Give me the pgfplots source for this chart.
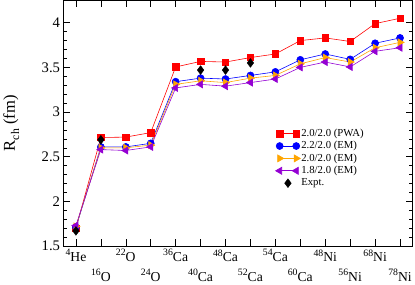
\documentclass[border=0pt]{standalone}
\usepackage{fontspec}
\setmainfont{Liberation Serif}
\usepackage{pgfplots}
\pgfplotsset{compat=1.18}

\definecolor{cred}{RGB}{255,0,0}
\definecolor{cblue}{RGB}{0,0,255}
\definecolor{corange}{RGB}{255,165,0}
\definecolor{cpurple}{RGB}{148,0,211}

\newcommand{\nuc}[2]{\raisebox{0.42em}{\fontsize{10}{10}\selectfont #1}#2}

\begin{document}
\begin{tikzpicture}
\begin{axis}[
  scale only axis, width=358pt, height=252pt,
  xmin=0.5, xmax=14.5, ymin=1.5, ymax=4.25,
  xtick={1,3,5,7,9,11,13},
  xticklabels={\nuc{4}{He},\nuc{22}{O},\nuc{36}{Ca},\nuc{48}{Ca},\nuc{54}{Ca},\nuc{48}{Ni},\nuc{68}{Ni}},
  extra x ticks={2,4,6,8,10,12,14},
  extra x tick labels={\nuc{16}{O},\nuc{24}{O},\nuc{40}{Ca},\nuc{52}{Ca},\nuc{60}{Ca},\nuc{56}{Ni},\nuc{78}{Ni}},
  extra x tick style={xticklabel style={yshift=-20pt}, major tick length=7pt},
  ytick={1.5,2,2.5,3,3.5,4},
  minor y tick num=4,
  tick align=inside,
  major tick length=7pt, minor tick length=4pt,
  tick style={black, line width=0.6pt},
  axis line style={line width=0.8pt},
  /pgf/number format/assume math mode=true,
  yticklabel style={font=\fontsize{15}{15}\selectfont},
  xticklabel style={font=\fontsize{14}{14}\selectfont},
  ylabel={R\raisebox{-0.25em}{\fontsize{12}{12}\selectfont ch}\ (fm)},
  ylabel style={font=\fontsize{17}{17}\selectfont, at={(axis description cs:-0.117,0.5)}, anchor=south},
  legend cell align=left,
  legend style={draw=none, fill=none, at={(axis cs:9.0,2.83)}, anchor=north west,
    font=\fontsize{11}{11}\selectfont, inner sep=0pt, row sep=0pt,
    nodes={inner sep=1pt, text height=8.2pt, text depth=2.5pt}},
]
\addplot[color=cred, line width=0.6pt, mark=square*, mark size=3.3pt,
  mark options={solid, fill=cred, draw=cred},
  legend image code/.code={\draw plot coordinates {(0pt,0pt) (17pt,0pt)};}]
  coordinates {(1,1.70)(2,2.715)(3,2.72)(4,2.77)(5,3.505)(6,3.567)(7,3.56)(8,3.61)(9,3.65)(10,3.80)(11,3.83)(12,3.79)(13,3.99)(14,4.05)};
\addlegendentry{2.0/2.0 (PWA)}
\addplot[color=cblue, line width=0.6pt, mark=*, mark size=3.6pt,
  mark options={solid, fill=cblue, draw=cblue},
  legend image code/.code={\draw plot coordinates {(0pt,0pt) (17pt,0pt)};}]
  coordinates {(1,1.71)(2,2.61)(3,2.61)(4,2.65)(5,3.34)(6,3.38)(7,3.37)(8,3.41)(9,3.45)(10,3.585)(11,3.65)(12,3.59)(13,3.77)(14,3.83)};
\addlegendentry{2.2/2.0 (EM)}
\addplot[color=corange, line width=0.6pt, mark=triangle*, mark size=4.2pt,
  mark options={solid, fill=corange, draw=corange, rotate=-90},
  legend image code/.code={\draw plot coordinates {(0pt,0pt) (17pt,0pt)};}]
  coordinates {(1,1.72)(2,2.60)(3,2.60)(4,2.63)(5,3.31)(6,3.35)(7,3.33)(8,3.38)(9,3.41)(10,3.54)(11,3.61)(12,3.56)(13,3.72)(14,3.78)};
\addlegendentry{2.0/2.0 (EM)}
\addplot[color=cpurple, line width=0.6pt, mark=triangle*, mark size=4.2pt,
  mark options={solid, fill=cpurple, draw=cpurple, rotate=90},
  legend image code/.code={\draw plot coordinates {(0pt,0pt) (17pt,0pt)};}]
  coordinates {(1,1.73)(2,2.58)(3,2.57)(4,2.61)(5,3.27)(6,3.31)(7,3.29)(8,3.33)(9,3.37)(10,3.50)(11,3.56)(12,3.505)(13,3.68)(14,3.72)};
\addlegendentry{1.8/2.0 (EM)}
\addplot[only marks, mark=diamond*, mark size=4.5pt, color=black,
  mark options={fill=black},
  legend image code/.code={\draw plot coordinates {(8.5pt,0pt)};}]
  coordinates {(1,1.67)(2,2.69)(6,3.47)(7,3.47)(8,3.55)};
\addlegendentry{Expt.}
\end{axis}
\end{tikzpicture}
\end{document}
